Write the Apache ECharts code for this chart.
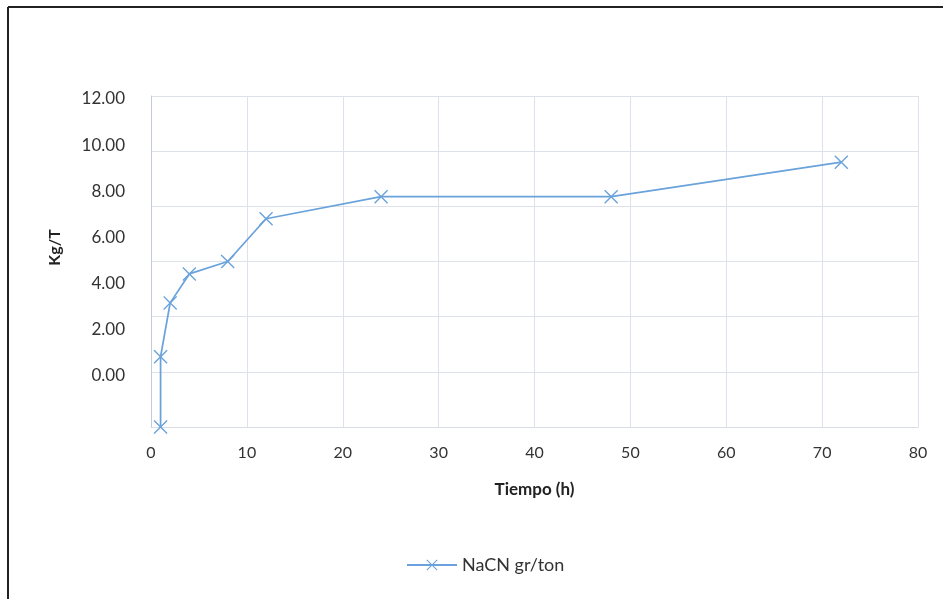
<!DOCTYPE html>
<html>
<head>
<meta charset="utf-8">
<script src="https://cdn.jsdelivr.net/npm/echarts@6/dist/echarts.min.js"></script>
<style>
  html, body { margin: 0; padding: 0; background: #fff; }
  #chart { width: 943px; height: 599px; }
</style>
</head>
<body>
<div id="chart"></div>
<script>
// datos
const hours = [1, 1, 2, 4, 8, 12, 24, 48, 72];
const nacn = [0, 2.55, 4.5, 5.55, 6.0, 7.55, 8.35, 8.35, 9.6];
const xTicks = [0, 10, 20, 30, 40, 50, 60, 70, 80];
const yLabelValues = [0, 2, 4, 6, 8, 10, 12];

const font = "Lato";
const xMarker = "path://M0,0.7L0.7,0L5,4.3L9.3,0L10,0.7L5.7,5L10,9.3L9.3,10L5,5.7L0.7,10L0,9.3L4.3,5Z";

const chart = echarts.init(document.getElementById("chart"));

chart.setOption({
  backgroundColor: "#fff",
  animation: false,
  textStyle: { fontFamily: font },
  grid: { left: 151, right: 25, top: 96, bottom: 172 },
  xAxis: {
    type: "value",
    min: xTicks[0],
    max: xTicks[xTicks.length - 1],
    interval: 10,
    name: "Tiempo (h)",
    nameLocation: "middle",
    nameGap: 54,
    nameTextStyle: { fontWeight: "bold", fontSize: 17, color: "#222" },
    axisLine: { show: true, lineStyle: { color: "#d9dde6" } },
    axisTick: { show: false },
    axisLabel: { fontSize: 16, color: "#333", margin: 18 },
    splitLine: { show: true, lineStyle: { color: "#dde1ea", width: 1 } },
  },
  yAxis: [
    {
      // rejilla
      type: "value",
      min: 0,
      max: 12,
      interval: 2,
      position: "left",
      axisLine: { show: true, lineStyle: { color: "#c3cad8" } },
      axisTick: { show: false },
      axisLabel: { show: false },
      splitLine: { show: true, lineStyle: { color: "#dde1ea", width: 1 } },
    },
    {
      // etiquetas desplazadas como en la imagen original
      type: "value",
      min: -2.21,
      max: 12.13,
      splitNumber: 7,
      position: "left",
      name: "Kg/T",
      nameLocation: "middle",
      nameGap: 88,
      nameTextStyle: { fontWeight: "bold", fontSize: 16, color: "#222", padding: [0, 0, 0, 28] },
      axisLine: { show: false },
      axisTick: { show: false },
      splitLine: { show: false },
      axisLabel: {
        fontSize: 17,
        color: "#333",
        margin: 26,
        showMinLabel: false,
        showMaxLabel: false,
        formatter: (v) => {
          const hit = yLabelValues.find((t) => Math.abs(t - v) < 1e-6);
          return hit === undefined ? "" : hit.toFixed(2);
        },
      },
    },
  ],
  legend: {
    left: 401,
    top: 551,
    itemWidth: 50,
    itemHeight: 14,
    itemGap: 8,
    textStyle: { fontSize: 18, color: "#333" },
    data: ["NaCN gr/ton"],
  },
  graphic: [
    { type: "line", shape: { x1: 8, y1: 7, x2: 943, y2: 7 }, style: { stroke: "#222", lineWidth: 2 } },
    { type: "line", shape: { x1: 8, y1: 7, x2: 8, y2: 599 }, style: { stroke: "#222", lineWidth: 2 } },
  ],
  series: [
    {
      name: "NaCN gr/ton",
      type: "line",
      yAxisIndex: 0,
      data: hours.map((h, i) => [h, nacn[i]]),
      symbol: xMarker,
      symbolSize: 14,
      showAllSymbol: true,
      color: "#6aa2db",
      lineStyle: { width: 1.75, color: "#6aa2db" },
      itemStyle: { color: "#6aa2db" },
    },
  ],
});
</script>
</body>
</html>
